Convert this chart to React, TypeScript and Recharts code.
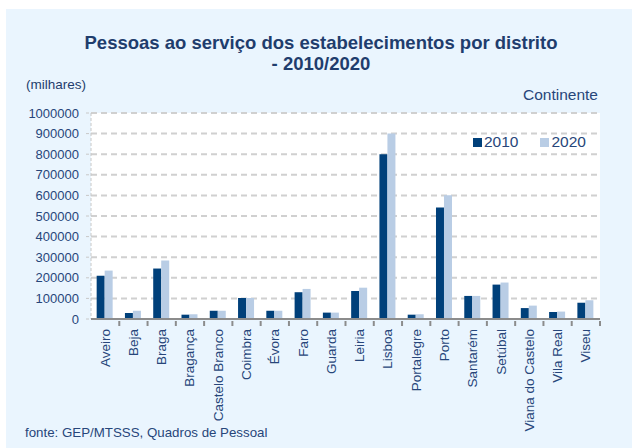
import { BarChart, Bar, XAxis, YAxis, CartesianGrid } from 'recharts';

const districts = [
  'Aveiro', 'Beja', 'Braga', 'Bragança', 'Castelo Branco', 'Coimbra', 'Évora', 'Faro', 'Guarda',
  'Leiria', 'Lisboa', 'Portalegre', 'Porto', 'Santarém', 'Setúbal', 'Viana do Castelo', 'Vila Real', 'Viseu',
];
const values2010 = [
  210000, 29000, 245000, 21000, 40000, 102000, 40000, 130000, 31000,
  136000, 800000, 21000, 541000, 112000, 167000, 53000, 34000, 79000,
];
const values2020 = [
  235000, 40000, 284000, 23000, 40000, 102000, 40000, 146000, 31000,
  152000, 900000, 23000, 601000, 112000, 177000, 65000, 36000, 91000,
];
const yTicks = [0, 100000, 200000, 300000, 400000, 500000, 600000, 700000, 800000, 900000, 1000000];

const data = districts.map((d, i) => ({ name: d, y2010: values2010[i], y2020: values2020[i] }));

const DARK = '#00407a';
const LIGHT = '#b9cde5';
const TEXT = '#27467a';
const FONT = 'Liberation Sans, Arial, sans-serif';

const PLOT_LEFT = 91;
const PLOT_RIGHT = 600;
const BAND = (PLOT_RIGHT - PLOT_LEFT) / districts.length;

const XTick = ({ x, y, payload }: any) => (
  <g>
    <line x1={x + BAND / 2} x2={x + BAND / 2} y1={y - 6} y2={y - 1} stroke="#8c8c8c" strokeWidth={2} />
    <text x={x} y={y + 2} transform={`rotate(-90, ${x}, ${y + 2})`} textAnchor="end" dominantBaseline="central"
      fill={TEXT} fontSize={13.5} fontFamily={FONT}>
      {payload.value}
    </text>
  </g>
);

// legend sits inside the plot area, top right
const LegendBox = () => (
  <div style={{ position: 'absolute', left: 473, top: 133, display: 'flex', alignItems: 'center',
    fontFamily: FONT, fontSize: 15.5, color: TEXT }}>
    <span style={{ width: 9, height: 9, background: DARK, display: 'inline-block', marginRight: 2 }} />
    <span>2010</span>
    <span style={{ width: 9, height: 9, background: LIGHT, display: 'inline-block', marginLeft: 22, marginRight: 2 }} />
    <span>2020</span>
  </div>
);

export default function App() {
  return (
    <div style={{ position: 'absolute', left: 0, top: 0, width: 632, height: 448, background: '#fff', overflow: 'hidden' }}>
      <div style={{ position: 'absolute', left: 6, top: 9, width: 626, height: 439, background: '#eaf5fe' }} />
      <div style={{ position: 'absolute', left: 0, width: 642, top: 32, textAlign: 'center', fontFamily: FONT,
        fontWeight: 'bold', fontSize: 18.5, lineHeight: '21px', color: '#1f3d6d' }}>
        Pessoas ao serviço dos estabelecimentos por distrito<br />- 2010/2020
      </div>
      <div style={{ position: 'absolute', left: 26, top: 77, fontFamily: FONT, fontSize: 13.5, color: '#1f3d6d' }}>(milhares)</div>
      <div style={{ position: 'absolute', right: 34, top: 86, fontFamily: FONT, fontSize: 15.5, color: TEXT }}>Continente</div>
      <div style={{ position: 'absolute', left: 25, top: 425, fontFamily: FONT, fontSize: 13.3, color: TEXT }}>fonte: GEP/MTSSS, Quadros de Pessoal</div>
      <div style={{ position: 'absolute', left: 0, top: 0 }}>
        <BarChart width={632} height={448} data={data} barCategoryGap="20%" barGap={0}
          margin={{ top: 113, right: 632 - PLOT_RIGHT, bottom: 29, left: 0 }}>
          <CartesianGrid vertical={false} fill="#ffffff" stroke="#d0d0d0" strokeWidth={2} strokeDasharray="6 4" />
          <YAxis width={PLOT_LEFT} domain={[0, 1000000]} ticks={yTicks} interval={0}
            axisLine={{ stroke: '#c8c8c8', strokeDasharray: '3 2' }}
            tickLine={{ stroke: '#c8c8c8', strokeDasharray: '3 2' }} tickSize={5} tickMargin={7}
            tick={{ fill: TEXT, fontSize: 13, fontFamily: FONT }} />
          <XAxis dataKey="name" height={100} interval={0} axisLine={{ stroke: '#8c8c8c', strokeWidth: 2 }}
            tickLine={false} tick={<XTick />} />
          <Bar dataKey="y2010" name="2010" fill={DARK} isAnimationActive={false} />
          <Bar dataKey="y2020" name="2020" fill={LIGHT} isAnimationActive={false} />
        </BarChart>
      </div>
      <LegendBox />
    </div>
  );
}
